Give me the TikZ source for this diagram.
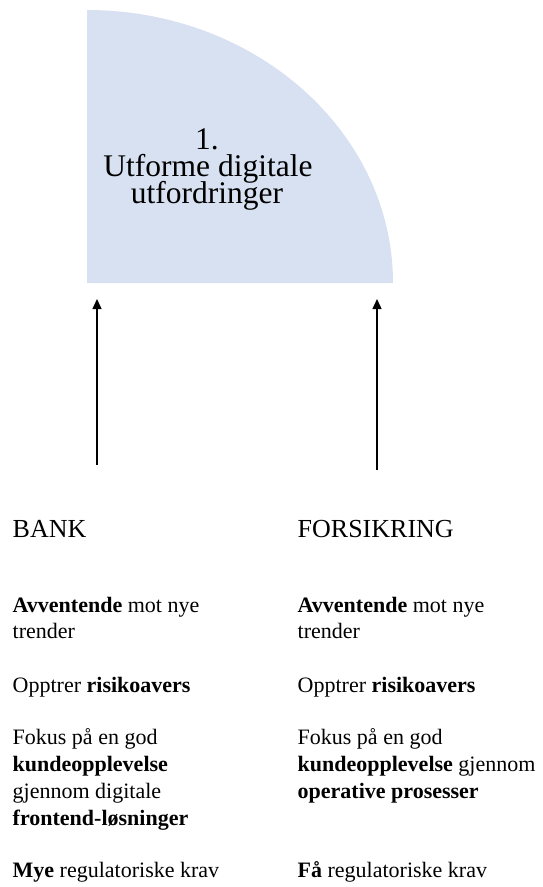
\documentclass[tikz,border=0pt]{standalone}
\usepackage{fontspec}
\setmainfont{Liberation Serif}
\usetikzlibrary{arrows.meta}
\definecolor{quarterfill}{RGB}{216,225,241}
\begin{document}
\begin{tikzpicture}[x=1pt,y=-1pt,
  bodyline/.style={anchor=base west, inner sep=0pt, font=\fontsize{22}{26}\selectfont},
  headline/.style={anchor=base west, inner sep=0pt, font=\fontsize{26}{30}\selectfont},
  titleline/.style={anchor=base, inner sep=0pt, font=\fontsize{31.5}{27}\selectfont},
  uparrow/.style={-{Triangle[length=10pt,width=9pt]}, line width=1.4pt}]
\useasboundingbox (0,0) rectangle (542,887);

% quarter ellipse
\fill[quarterfill] (87,283) -- (87,10)
  arc[start angle=-90, end angle=0, x radius=306, y radius=273] -- cycle;

% title inside the quarter
\node[titleline] (t1) at (207,149) {1.};
\node[titleline] (t2) at (208,176.5) {Utforme digitale};
\node[titleline] (t3) at (207,203) {utfordringer};

% arrows pointing up to the quarter
\coordinate (lfoot) at (97,465);
\coordinate (ltip) at (97,299);
\coordinate (rfoot) at (377,470);
\coordinate (rtip) at (377,299);
\draw[uparrow] (lfoot) -- (ltip);
\draw[uparrow] (rfoot) -- (rtip);

% left column
\node[headline] (bank) at (12.5,537) {BANK};
\node[bodyline] (b1a) at (12.5,612.5) {\textbf{Avventende} mot nye};
\node[bodyline] (b1b) at (12.5,638) {trender};
\node[bodyline] (b2) at (12.5,692) {Opptrer \textbf{risikoavers}};
\node[bodyline] (b3a) at (12.5,744) {Fokus på en god};
\node[bodyline] (b3b) at (12.5,771) {\textbf{kundeopplevelse}};
\node[bodyline] (b3c) at (12.5,798) {gjennom digitale};
\node[bodyline] (b3d) at (12.5,825) {\textbf{frontend-løsninger}};
\node[bodyline] (b4) at (12.5,877) {\textbf{Mye} regulatoriske krav};

% right column
\node[headline] (fors) at (297.5,537) {FORSIKRING};
\node[bodyline] (f1a) at (297.5,612.5) {\textbf{Avventende} mot nye};
\node[bodyline] (f1b) at (297.5,638) {trender};
\node[bodyline] (f2) at (297.5,692) {Opptrer \textbf{risikoavers}};
\node[bodyline] (f3a) at (297.5,744) {Fokus på en god};
\node[bodyline] (f3b) at (297.5,771) {\textbf{kundeopplevelse} gjennom};
\node[bodyline] (f3c) at (297.5,798) {\textbf{operative prosesser}};
\node[bodyline] (f4) at (297.5,877) {\textbf{Få} regulatoriske krav};
\end{tikzpicture}
\end{document}
